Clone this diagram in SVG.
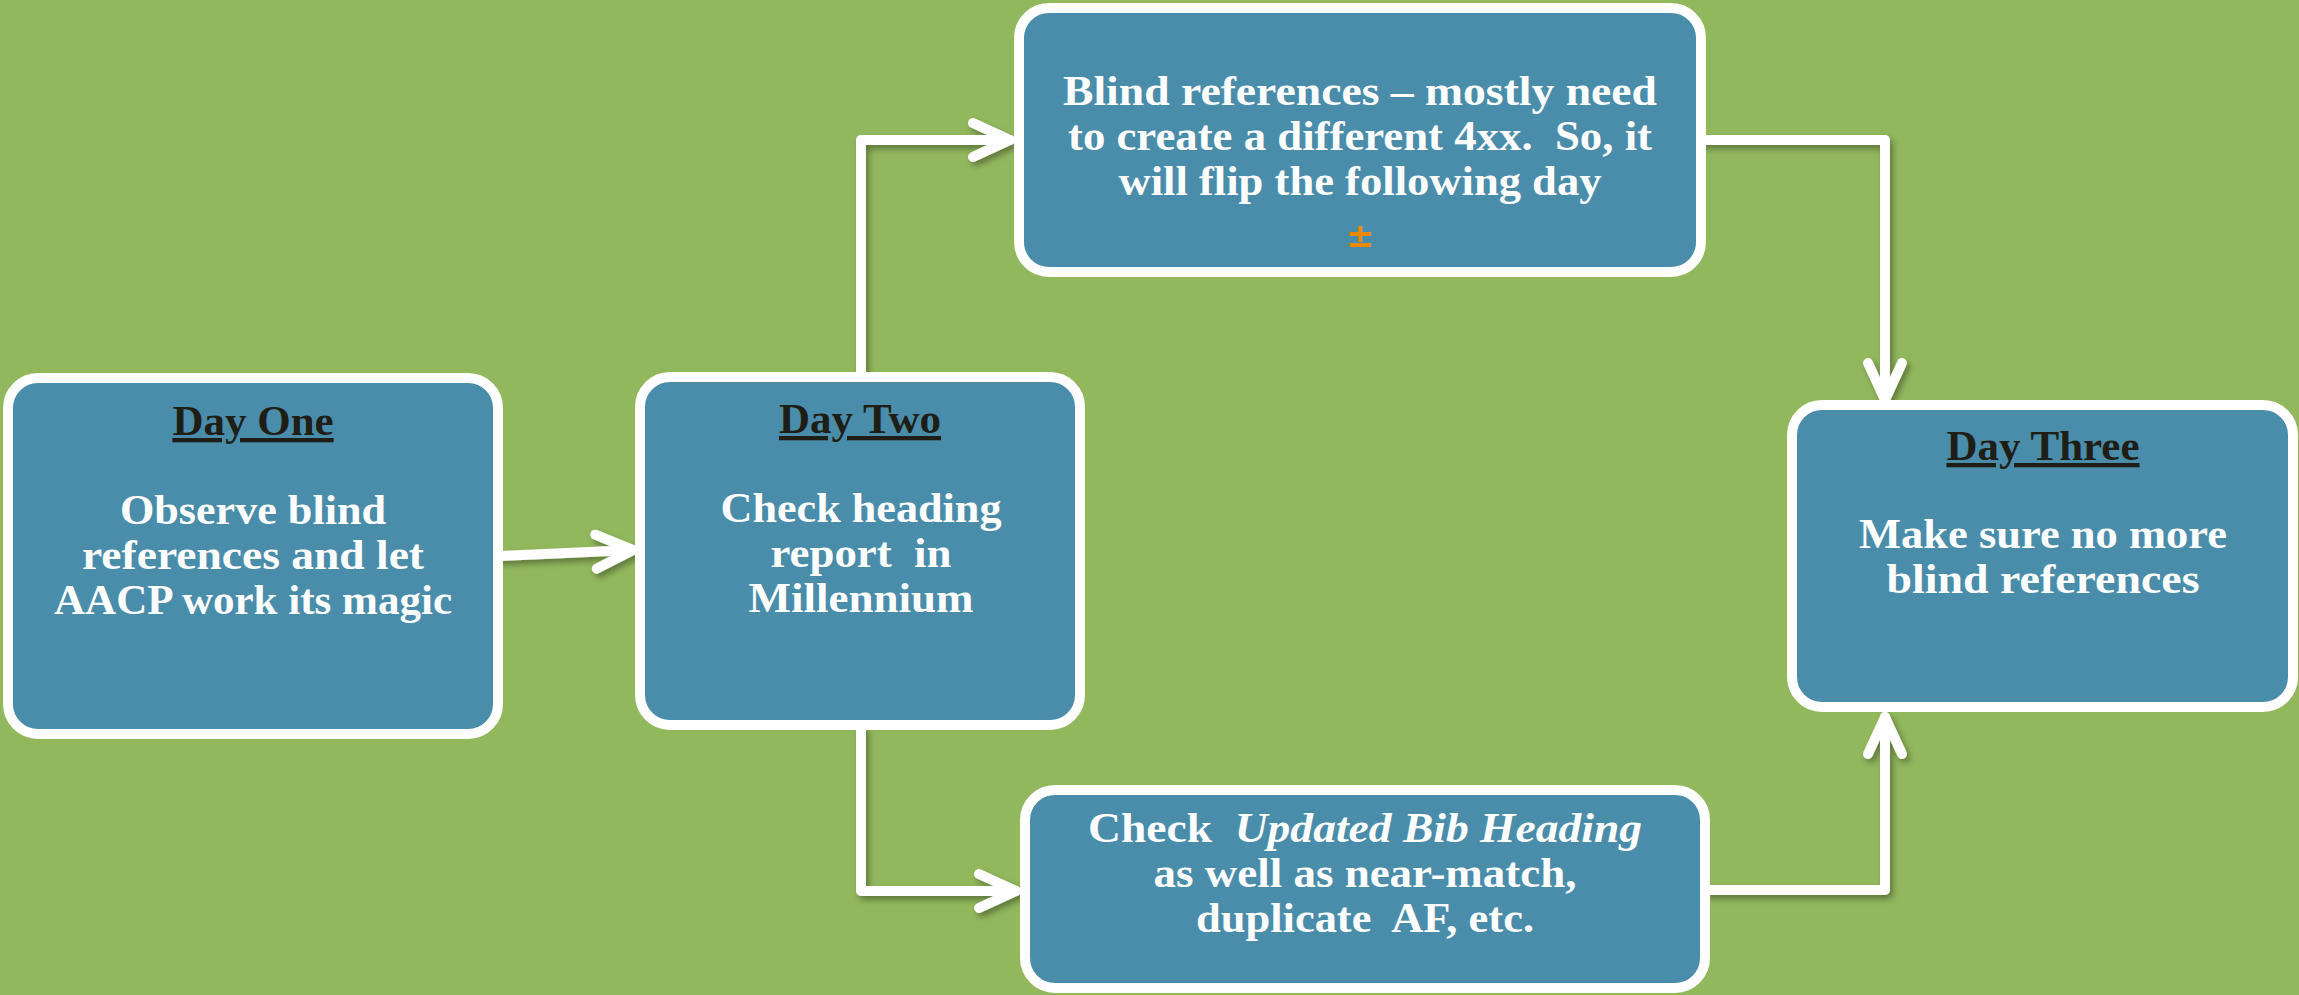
<svg xmlns="http://www.w3.org/2000/svg" width="2299" height="995" viewBox="0 0 2299 995">
  <style>
    .box { fill: #4a8dab; stroke: #ffffff; stroke-width: 10; }
    .conn { fill: none; stroke: #ffffff; stroke-width: 10; stroke-linecap: round; stroke-linejoin: round; }
    .head { font-family: "Liberation Serif", "Times New Roman", serif; font-weight: bold; font-size: 43px; fill: #1e1e16; text-anchor: middle; text-decoration: underline; }
    .body { font-family: "Liberation Serif", "Times New Roman", serif; font-weight: bold; font-size: 43px; fill: #ffffff; text-anchor: middle; }
    .link { font-family: "DejaVu Sans", "Liberation Sans", sans-serif; font-weight: bold; font-size: 34px; fill: #ee8a00; text-anchor: middle; }
  </style>
  <defs>
    <filter id="shadow" x="-10%" y="-10%" width="120%" height="120%">
      <feDropShadow dx="3" dy="4" stdDeviation="3" flood-color="#000000" flood-opacity="0.35"/>
    </filter>
    <marker id="chev" markerUnits="userSpaceOnUse" viewBox="-50 -30 60 60" refX="0" refY="0" markerWidth="60" markerHeight="60" orient="auto" overflow="visible">
      <path d="M -37 -17 L 0 0 L -37 17" fill="none" stroke="#ffffff" stroke-width="10" stroke-linecap="round" stroke-linejoin="round"/>
    </marker>
  </defs>

  <rect x="0" y="0" width="2299" height="995" fill="#92b85d"/>

  <g id="connectors" filter="url(#shadow)">
    <path class="conn" d="M 500 556 L 633 550" marker-end="url(#chev)"/>
    <path class="conn" d="M 861 372 L 861 140 L 1010 140" marker-end="url(#chev)"/>
    <path class="conn" d="M 861 730 L 861 891 L 1016 891" marker-end="url(#chev)"/>
    <path class="conn" d="M 1702 140 L 1885 140 L 1885 400" marker-end="url(#chev)"/>
    <path class="conn" d="M 1707 890 L 1885 890 L 1885 717" marker-end="url(#chev)"/>
  </g>

  <g id="day-one">
    <rect class="box" x="8" y="378" width="490" height="356" rx="30" ry="30"/>
    <text class="head" x="253" y="435">Day One</text>
    <text class="body" x="253" y="524" textLength="266" lengthAdjust="spacingAndGlyphs">Observe blind</text>
    <text class="body" x="253" y="569" textLength="342" lengthAdjust="spacingAndGlyphs">references and let</text>
    <text class="body" x="253" y="614" textLength="398" lengthAdjust="spacingAndGlyphs">AACP work its magic</text>
  </g>

  <g id="day-two">
    <rect class="box" x="640" y="377" width="440" height="348" rx="30" ry="30"/>
    <text class="head" x="860" y="433">Day Two</text>
    <text class="body" x="861" y="522" textLength="281" lengthAdjust="spacingAndGlyphs">Check heading</text>
    <text class="body" x="861" y="567" textLength="181" lengthAdjust="spacingAndGlyphs" xml:space="preserve">report  in</text>
    <text class="body" x="861" y="612" textLength="225" lengthAdjust="spacingAndGlyphs">Millennium</text>
  </g>

  <g id="blind-references">
    <rect class="box" x="1019" y="8" width="682" height="264" rx="30" ry="30"/>
    <text class="body" x="1360" y="105" textLength="594" lengthAdjust="spacingAndGlyphs">Blind references – mostly need</text>
    <text class="body" x="1360" y="150" textLength="584" lengthAdjust="spacingAndGlyphs" xml:space="preserve">to create a different 4xx.  So, it</text>
    <text class="body" x="1360" y="195" textLength="483" lengthAdjust="spacingAndGlyphs">will flip the following day</text>
    <text class="link" x="1360" y="247">±</text>
  </g>

  <g id="updated-bib-heading">
    <rect class="box" x="1025" y="790" width="680" height="198" rx="30" ry="30"/>
    <text class="body" x="1365" y="842" textLength="554" lengthAdjust="spacingAndGlyphs" xml:space="preserve">Check  <tspan font-style="italic">Updated Bib Heading</tspan></text>
    <text class="body" x="1365" y="887" textLength="423" lengthAdjust="spacingAndGlyphs">as well as near-match,</text>
    <text class="body" x="1365" y="932" textLength="338" lengthAdjust="spacingAndGlyphs" xml:space="preserve">duplicate  AF, etc.</text>
  </g>

  <g id="day-three">
    <rect class="box" x="1792" y="405" width="501" height="302" rx="30" ry="30"/>
    <text class="head" x="2043" y="460">Day Three</text>
    <text class="body" x="2043" y="548" textLength="368" lengthAdjust="spacingAndGlyphs">Make sure no more</text>
    <text class="body" x="2043" y="593" textLength="313" lengthAdjust="spacingAndGlyphs">blind references</text>
  </g>
</svg>
